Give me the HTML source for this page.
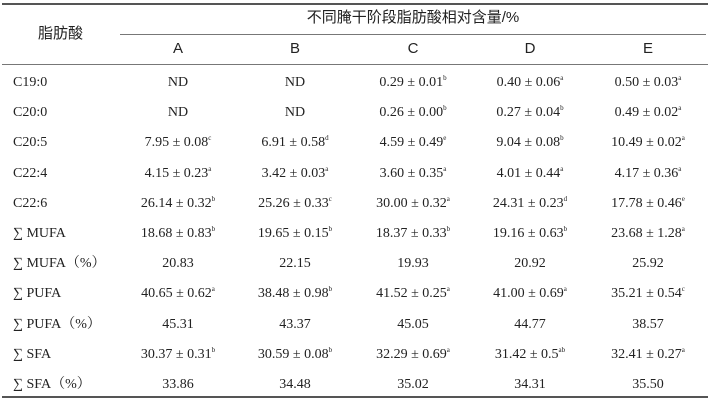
<!DOCTYPE html>
<html><head><meta charset="utf-8"><style>
body{margin:0;width:710px;height:400px;background:#fff;position:relative;overflow:hidden;color:#222}
.l{position:absolute;background:#555}
.t{position:absolute;white-space:nowrap;font-family:"Liberation Serif","Noto Serif CJK SC",serif;font-size:14px;line-height:16px}
.c{transform:translateX(-50%)}
.h{font-family:"Liberation Sans","Noto Sans CJK SC",sans-serif;font-size:15px}
sup{font-size:7px;vertical-align:6px;line-height:0}
</style></head><body>
<div class="l" style="left:2px;top:3px;width:706px;height:1.5px"></div>
<div class="l" style="left:120px;top:34px;width:586px;height:1px;background:#777"></div>
<div class="l" style="left:2px;top:64px;width:706px;height:1px;background:#777"></div>
<div class="l" style="left:2px;top:396px;width:706px;height:1.5px"></div>
<div class="t h" style="left:38px;top:26px">脂肪酸</div>
<div class="t h c" style="left:413px;top:10px">不同腌干阶段脂肪酸相对含量/%</div>
<div class="t h c" style="left:178px;top:41px">A</div>
<div class="t h c" style="left:295px;top:41px">B</div>
<div class="t h c" style="left:413px;top:41px">C</div>
<div class="t h c" style="left:530px;top:41px">D</div>
<div class="t h c" style="left:648px;top:41px">E</div>
<div id="rows"></div>
<script>
var d=[
["C19:0","ND","ND","0.29 ± 0.01<sup>b</sup>","0.40 ± 0.06<sup>a</sup>","0.50 ± 0.03<sup>a</sup>"],
["C20:0","ND","ND","0.26 ± 0.00<sup>b</sup>","0.27 ± 0.04<sup>b</sup>","0.49 ± 0.02<sup>a</sup>"],
["C20:5","7.95 ± 0.08<sup>c</sup>","6.91 ± 0.58<sup>d</sup>","4.59 ± 0.49<sup>e</sup>","9.04 ± 0.08<sup>b</sup>","10.49 ± 0.02<sup>a</sup>"],
["C22:4","4.15 ± 0.23<sup>a</sup>","3.42 ± 0.03<sup>a</sup>","3.60 ± 0.35<sup>a</sup>","4.01 ± 0.44<sup>a</sup>","4.17 ± 0.36<sup>a</sup>"],
["C22:6","26.14 ± 0.32<sup>b</sup>","25.26 ± 0.33<sup>c</sup>","30.00 ± 0.32<sup>a</sup>","24.31 ± 0.23<sup>d</sup>","17.78 ± 0.46<sup>e</sup>"],
["∑ MUFA","18.68 ± 0.83<sup>b</sup>","19.65 ± 0.15<sup>b</sup>","18.37 ± 0.33<sup>b</sup>","19.16 ± 0.63<sup>b</sup>","23.68 ± 1.28<sup>a</sup>"],
["∑ MUFA（%）","20.83","22.15","19.93","20.92","25.92"],
["∑ PUFA","40.65 ± 0.62<sup>a</sup>","38.48 ± 0.98<sup>b</sup>","41.52 ± 0.25<sup>a</sup>","41.00 ± 0.69<sup>a</sup>","35.21 ± 0.54<sup>c</sup>"],
["∑ PUFA（%）","45.31","43.37","45.05","44.77","38.57"],
["∑ SFA","30.37 ± 0.31<sup>b</sup>","30.59 ± 0.08<sup>b</sup>","32.29 ± 0.69<sup>a</sup>","31.42 ± 0.5<sup>ab</sup>","32.41 ± 0.27<sup>a</sup>"],
["∑ SFA（%）","33.86","34.48","35.02","34.31","35.50"]];
var xs=[178,295,413,530,648],h="";
d.forEach(function(r,i){var y=75+i*30.2;
h+='<div class="t" style="left:13px;top:'+y+'px">'+r[0]+'</div>';
for(var j=1;j<6;j++)h+='<div class="t c" style="left:'+xs[j-1]+'px;top:'+y+'px">'+r[j]+'</div>';});
document.getElementById("rows").innerHTML=h;
</script>
</body></html>
